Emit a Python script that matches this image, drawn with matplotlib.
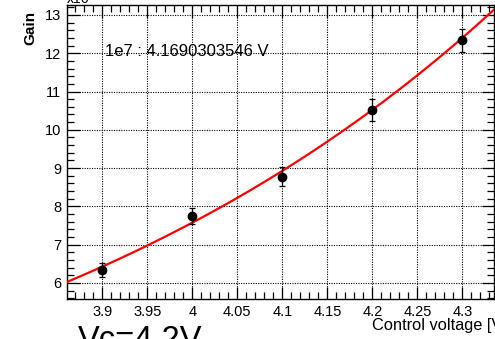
import numpy as np
import matplotlib.pyplot as plt
from matplotlib.ticker import MultipleLocator

plt.rcParams['font.family'] = ['Liberation Sans', 'DejaVu Sans']

# measured points (gain in units of 1e6)
voltage = [3.9, 4.0, 4.1, 4.2, 4.3]
gain = [6.33, 7.75, 8.77, 10.52, 12.34]
gain_err = [0.18, 0.2, 0.25, 0.28, 0.3]

# exponential fit: gain = 10 * exp(slope * (V - v_1e7))
v_1e7 = 4.1690303546
slope = 1.645

x_tick_vals = [3.9, 3.95, 4.0, 4.05, 4.1, 4.15, 4.2, 4.25, 4.3]
x_tick_labels = ['3.9', '3.95', '4', '4.05', '4.1', '4.15', '4.2', '4.25', '4.3']
y_tick_vals = [6, 7, 8, 9, 10, 11, 12, 13]

fig = plt.figure(figsize=(4.95, 3.39), dpi=100)
ax = fig.add_axes([67 / 495, 40 / 339, 427 / 495, 294 / 339])

xlo, xhi = 3.861, 4.335
ax.set_xlim(xlo, xhi)
ax.set_ylim(5.58, 13.26)

vv = np.linspace(xlo, xhi, 200)
ax.plot(vv, 10 * np.exp(slope * (vv - v_1e7)), color='red', lw=1.6, zorder=3)
ax.errorbar(voltage, gain, yerr=gain_err, fmt='o', color='black', ms=6,
            elinewidth=0.9, capsize=2.5, capthick=0.9, zorder=4)

ax.set_xticks(x_tick_vals)
ax.set_xticklabels(x_tick_labels)
ax.set_yticks(y_tick_vals)
ax.xaxis.set_minor_locator(MultipleLocator(0.01))
ax.yaxis.set_minor_locator(MultipleLocator(0.2))
ax.tick_params(which='both', direction='in', top=True, right=True,
               labelsize=10.5, width=0.9, pad=4)
ax.tick_params(which='major', length=9)
ax.tick_params(which='minor', length=5)
for s in ax.spines.values():
    s.set_linewidth(1.0)
ax.grid(True, which='major', color='black', lw=0.8, linestyle=(0, (1, 1.2)))

ax.text(105 / 495, 1 - 52 / 339, '1e7 : 4.1690303546 V', transform=fig.transFigure,
        fontsize=12, va='center', ha='left')

fig.text(30 / 495, 1 - 28 / 339, 'Gain', rotation=90, fontsize=11,
         fontweight='bold', va='center', ha='center')
fig.text(66 / 495, 1 + 2 / 339, r'x10$^{6}$', fontsize=10, va='center', ha='left')
fig.text(372 / 495, 1 - 318 / 339, 'Control voltage [V]', fontsize=11.8, va='top', ha='left')
fig.text(78 / 495, 1 - 325 / 339, 'Vc=4.2V', fontsize=23.5, va='top', ha='left')

fig.savefig('out.png', dpi=100)
